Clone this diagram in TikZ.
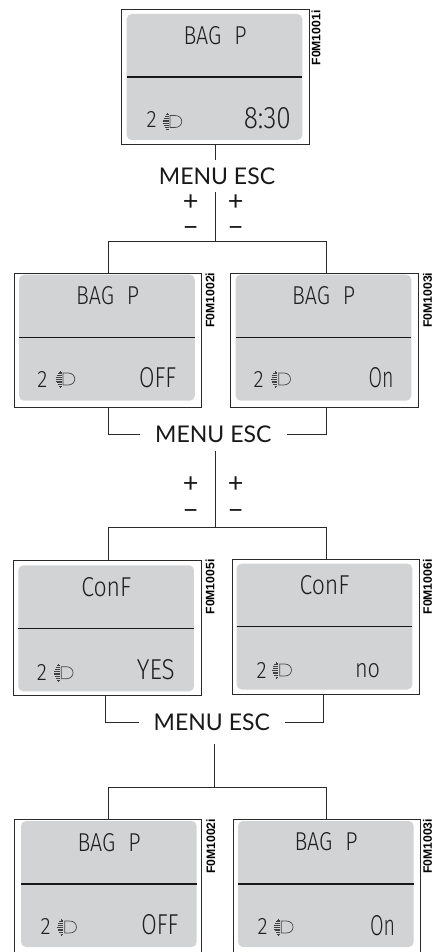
\documentclass[tikz,border=0pt]{standalone}
\usepackage{fontspec}
\usepackage{graphicx}
\setmainfont{Lato}
\newfontfamily\lcdfont{Fira Sans Light}
\newfontfamily\codefont{Liberation Sans}
\definecolor{lcdgray}{HTML}{D1D3D4}
\definecolor{ink}{HTML}{2A2A2A}
\tikzset{
  x=1pt,y=-1pt,
  framebox/.style={draw=ink,line width=1pt,fill=white,minimum width=187.7pt,minimum height=134.7pt,inner sep=0pt,outer sep=0pt},
  screen/.style={fill=lcdgray,rounded corners=5pt,minimum width=175.6pt,minimum height=126pt,inner sep=0pt,outer sep=0pt},
  divider/.style={draw=black!90,line width=1.4pt},
  wire/.style={draw=ink,line width=0.9pt},
  lcdtext/.style={text=black!88,inner sep=0pt,outer sep=0pt},
  menutext/.style={font=\fontsize{23}{24}\selectfont,text=black!90,inner sep=0pt,outer sep=0pt},
  signtext/.style={font=\fontsize{27}{28}\selectfont,text=black!90,inner sep=0pt,outer sep=0pt},
  codetext/.style={font=\codefont\bfseries\fontsize{12.2}{13}\selectfont,rotate=90,inner sep=0pt,outer sep=0pt},
  headlamp/.pic={
    \draw[black!72,line width=0.7pt] (8,-6) -- (13,-6) .. controls (22,-6) and (22,6) .. (13,6) -- (8,6) -- cycle;
    \foreach \yy/\xa in {-7/4,-5.2/2.6,-3.4/1.5,-1.6/0.8,0.2/0.5,2/0.8,3.8/1.5,5.6/2.6,7.4/4}
      \draw[black!75,line width=0.7pt] (\xa,\yy) -- (6.6,\yy);
    \draw[black!75,line width=1pt] (5,-8.5) -- (5,-7);
    \draw[black!75,line width=1pt] (5,7.5) -- (5,9);
  }
}
\newcommand{\lcdpanel}[5]{%
  \node[framebox] (#1) at (#2,#3) {};
  \node[screen] (#1s) at (#4,#5) {};
  \draw[divider] (#1s.west) -- (#1s.east);
}
\newcommand{\lcdstr}[6]{% name, x, y, w, h, text
  \node[lcdtext] (#1) at (#2,#3) {\resizebox{#4pt}{#5pt}{\lcdfont #6}};
}
\newcommand{\bagp}{BAG\hspace{0.6em}P}
\begin{document}
\begin{tikzpicture}
\useasboundingbox (0,0) rectangle (434,952);
\fill[white] (0,0) rectangle (434,952);
\begin{scope}
\clip (0,0) rectangle (434,952);
\lcdpanel{p1}{215.15}{77}{214.5}{77}
\lcdpanel{p2}{107.85}{340.5}{107}{337.7}
\lcdpanel{p3}{324.7}{340.5}{323.5}{337.7}
\lcdpanel{p5}{107.15}{628}{106.15}{628.3}
\lcdpanel{p6}{325.85}{627}{324.5}{626.5}
\lcdpanel{p7}{107.85}{886.65}{108.85}{884}
\lcdpanel{p8}{326.85}{886.65}{325.85}{884}
\end{scope}

% LCD texts
\lcdstr{t1}{215}{35.7}{63}{18}{\bagp}
\lcdstr{t2}{107.7}{296}{63}{18}{\bagp}
\lcdstr{t3}{323.7}{296}{63}{18}{\bagp}
\lcdstr{t5}{106.3}{586.7}{50}{19}{ConF}
\lcdstr{t6}{324.5}{585}{50}{19}{ConF}
\lcdstr{t7}{109}{842.3}{63}{18}{\bagp}
\lcdstr{t8}{326}{842}{63}{18}{\bagp}

\lcdstr{v1}{267.3}{117.7}{47}{21}{8:30}
\lcdstr{v2}{157.7}{378}{37}{20}{OFF}
\lcdstr{v3}{381}{378}{25}{20}{On}
\lcdstr{v5}{155.8}{670}{38}{20}{YES}
\lcdstr{v6}{367.5}{670.5}{25}{14}{no}
\lcdstr{v7}{160}{925}{37}{20}{OFF}
\lcdstr{v8}{382.5}{926}{25}{20}{On}

\lcdstr{n1}{151.5}{120}{10}{16}{2}
\lcdstr{n2}{42.5}{379}{10}{16}{2}
\lcdstr{n3}{258.7}{379}{10}{16}{2}
\lcdstr{n5}{42}{672.7}{10}{16}{2}
\lcdstr{n6}{261.7}{670}{10}{16}{2}
\lcdstr{n7}{45.7}{926}{10}{16}{2}
\lcdstr{n8}{262.5}{926}{10}{16}{2}

\pic at (162,121.5) {headlamp};
\pic at (55,379) {headlamp};
\pic at (270.7,379) {headlamp};
\pic at (53.3,672.7) {headlamp};
\pic at (271.7,670) {headlamp};
\pic at (56.7,927) {headlamp};
\pic at (273.3,927) {headlamp};

% codes
\node[codetext,anchor=east] (c1) at (316,10.5) {F0M1001i};
\node[codetext,anchor=east] (c2) at (210,272.7) {F0M1002i};
\node[codetext,anchor=east] (c3) at (427.5,272.7) {F0M1003i};
\node[codetext,anchor=east] (c5) at (210,559.5) {F0M1005i};
\node[codetext,anchor=east] (c6) at (427.5,559.5) {F0M1006i};
\node[codetext,anchor=east] (c7) at (210.7,819) {F0M1002i};
\node[codetext,anchor=east] (c8) at (427.5,819) {F0M1003i};

% MENU ESC
\node[menutext,minimum width=146pt,minimum height=32pt] (m1) at (217,176) {MENU ESC};
\node[menutext,minimum width=146.7pt,minimum height=34pt] (m2) at (213.3,434) {MENU ESC};
\node[menutext,minimum width=146.3pt,minimum height=44pt] (m3) at (211.8,722) {MENU ESC};

% plus / minus
\node[signtext] (a1) at (190.7,202.5) {+};
\node[signtext] (a2) at (235.7,202.5) {+};
\node[signtext] (b1) at (190.7,232) {−};
\node[signtext] (b2) at (235.7,232) {−};
\node[signtext] (a3) at (190.7,485) {+};
\node[signtext] (a4) at (235.7,485) {+};
\node[signtext] (b3) at (190.7,514.5) {−};
\node[signtext] (b4) at (235.7,514.5) {−};

% junctions
\coordinate (j1l) at (108,241);
\coordinate (j1r) at (326,241);
\coordinate (j1) at (215,241);
\coordinate (j2l) at (108,527);
\coordinate (j2r) at (326,527);
\coordinate (j2) at (215,527);
\coordinate (j3l) at (108,787.5);
\coordinate (j3r) at (326,787.5);
\coordinate (j3) at (214,787.5);

\draw[wire] (p1.south) -- (p1.south |- m1.north);
\draw[wire] (j1 |- m1.south) -- (j1);
\draw[wire] (j1l |- p2.north) -- (j1l) -- (j1r) -- (j1r |- p3.north);

\draw[wire] (j1l |- p2.south) -- (j1l |- m2.west) -- (m2.west);
\draw[wire] (j1r |- p3.south) -- (j1r |- m2.east) -- (m2.east);
\draw[wire] (j2 |- m2.south) -- (j2);
\draw[wire] (j2l |- p5.north) -- (j2l) -- (j2r) -- (j2r |- p6.north);

\coordinate (e5) at (105.7,722);
\coordinate (e6) at (323.3,722);
\draw[wire] (e5 |- p5.south) -- (e5 |- m3.west) -- (m3.west);
\draw[wire] (e6 |- p6.south) -- (e6 |- m3.east) -- (m3.east);
\draw[wire] (j3 |- m3.south) -- (j3);
\draw[wire] (j3l |- p7.north) -- (j3l) -- (j3r) -- (j3r |- p8.north);
\end{tikzpicture}
\end{document}
